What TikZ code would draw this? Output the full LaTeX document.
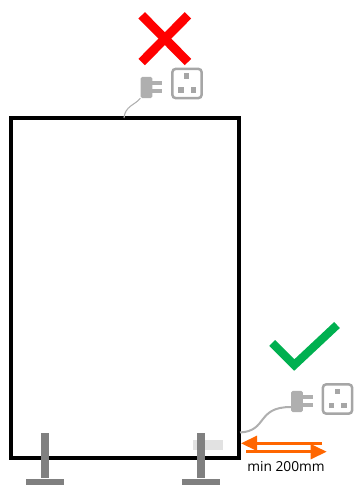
\documentclass[tikz,border=0pt]{standalone}
\usepackage{fontspec}
\setmainfont{Open Sans}
\usepackage{xcolor}
\usetikzlibrary{positioning,arrows.meta}
\definecolor{crossred}{RGB}{255,0,0}
\definecolor{tickgreen}{RGB}{0,176,80}
\definecolor{gaporange}{RGB}{255,102,0}
\definecolor{postgrey}{RGB}{128,128,128}
\definecolor{plugrey}{RGB}{175,175,175}
\definecolor{sockgrey}{RGB}{166,166,166}
\definecolor{tabgrey}{RGB}{226,226,226}
\tikzset{
  panel/.style  ={draw=black, fill=white, line width=3pt, inner sep=0pt,
                  minimum width=171pt, minimum height=254.6pt},
  post/.style   ={fill=postgrey, inner sep=0pt, minimum width=6pt, minimum height=33.8pt},
  foot/.style   ={fill=postgrey, inner sep=0pt, minimum width=28pt, minimum height=5.2pt},
  tabbox/.style ={fill=tabgrey, inner sep=0pt, minimum width=22.5pt, minimum height=7.5pt},
  sock/.style   ={draw=sockgrey, line width=1.9pt, rounded corners=2.6pt, inner sep=0pt,
                  minimum width=22pt, minimum height=22pt},
  hole/.style   ={fill=sockgrey, inner sep=0pt, minimum width=4pt, minimum height=4.3pt},
  plugbody/.style={fill=plugrey, rounded corners=1.2pt, inner sep=0pt,
                  minimum width=8.8pt, minimum height=15.8pt},
  prong/.style  ={fill=plugrey, inner sep=0pt, minimum width=7.5pt, minimum height=3.2pt},
  cord/.style   ={draw=plugrey},
  gap/.style    ={-{Triangle[length=12pt,width=11pt]}, draw=gaporange, line width=1.9pt},
}
\begin{document}
\begin{tikzpicture}[x=0.75pt,y=-0.75pt]
\useasboundingbox (0,0) rectangle (354,485);

% panel and stand
\node[tabbox] (tab) at (208,445) {};
\path[use as bounding box] (0,0) rectangle (354,485);
\node[panel,fill=none] (frame) at (125,288.2) {};
\node[post] (postL) at (45,455.5) {};
\node[foot,below=0pt of postL] (footL) {};
\node[post] (postR) at (201,455.5) {};
\node[foot,below=0pt of postR] (footR) {};

% socket and plug, twice
\foreach \nm/\sx/\sy/\px/\py in {T/187/83.5/146.5/87.5, B/337.5/399/297/401.5} {
  \node[sock] (sock\nm) at (\sx,\sy) {};
  \node[hole] (holeA\nm) at (\sx-0.2,\sy-7.5) {};
  \node[hole] (holeB\nm) at (\sx-6,\sy+6.5) {};
  \node[hole] (holeC\nm) at (\sx+6.4,\sy+6.5) {};
  \node[plugbody] (plug\nm) at (\px,\py) {};
  \node[prong,anchor=west] (prongA\nm) at (\px+5.5,\py-4.5) {};
  \node[prong,anchor=west] (prongB\nm) at (\px+5.5,\py+3.5) {};
}

% cords
\coordinate (cordT) at (124,118);
\coordinate (cordB) at (240,432.5);
\draw[cord,line width=0.8pt] (cordT) .. controls (125,106) and (135,105) .. (plugT.south west);
\draw[cord,line width=1.5pt] (cordB) .. controls (268,431) and (256,407) .. (plugB.west |- 0,407);

% cross and tick
\coordinate (crossA) at (141.7,15.3);
\coordinate (crossB) at (188,62);
\coordinate (crossC) at (188,15.3);
\coordinate (crossD) at (141.7,62);
\draw[crossred,line width=6.8pt] (crossA) -- (crossB);
\draw[crossred,line width=6.8pt] (crossC) -- (crossD);
\coordinate (tickA) at (272.2,343);
\coordinate (tickB) at (294.3,365);
\coordinate (tickC) at (337,325);
\draw[tickgreen,line width=6.2pt] (tickA) -- (tickB) -- (tickC);

% min gap
\coordinate (gapA) at (322,443.3);
\coordinate (gapB) at (241,443.3);
\coordinate (gapC) at (246,451.7);
\coordinate (gapD) at (326.7,451.7);
\draw[gap] (gapA) -- (gapB);
\draw[gap] (gapC) -- (gapD);
\node[font=\fontsize{10.3pt}{12pt}\selectfont,inner sep=0pt] (gaplabel) at (286,466.5) {min 200mm};
\end{tikzpicture}
\end{document}
